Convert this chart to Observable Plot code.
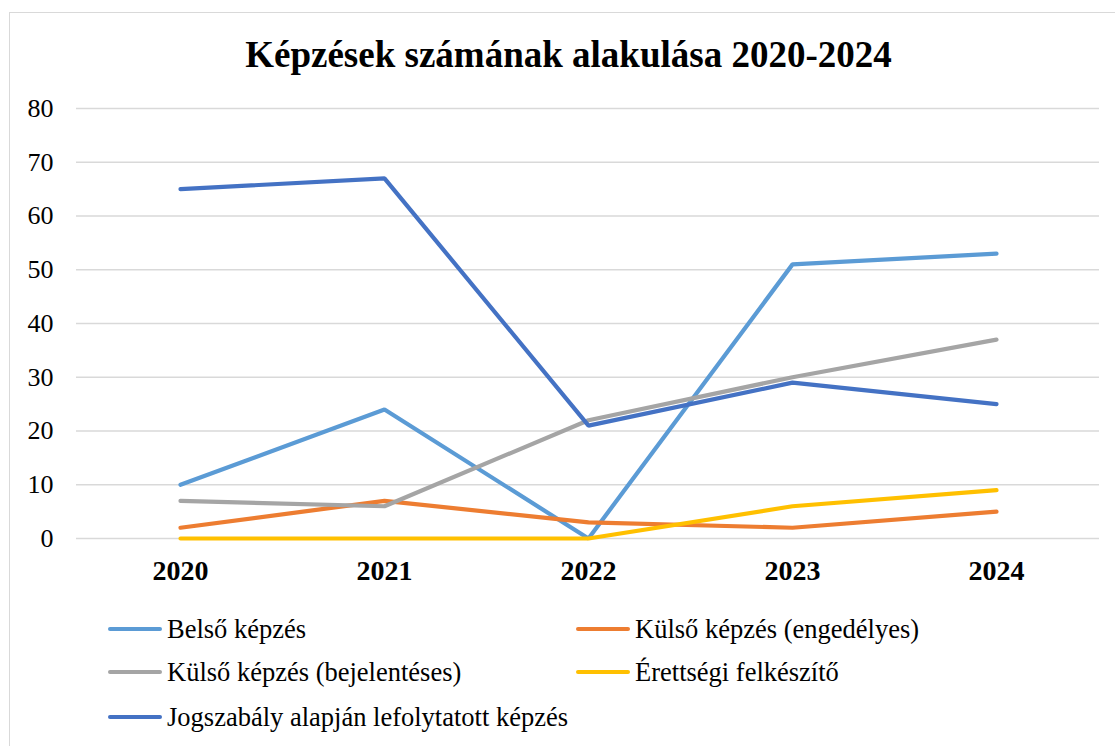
<!DOCTYPE html>
<html><head><meta charset="utf-8">
<script src="https://cdn.jsdelivr.net/npm/d3@7"></script>
<script src="https://cdn.jsdelivr.net/npm/@observablehq/plot@0.6"></script>
<style>
html,body{margin:0;padding:0;background:#fff;}
#wrap{position:relative;width:1115px;height:746px;overflow:hidden;font-family:'Liberation Serif','DejaVu Serif',serif;}
#frame{position:absolute;left:9px;top:12px;width:1120px;height:760px;border:1px solid #d9d9d9;box-sizing:border-box;}
#title{position:absolute;left:0;width:1137px;top:33px;text-align:center;font-weight:bold;font-size:37px;line-height:44px;color:#000;font-family:'Liberation Serif','DejaVu Serif',serif;}
#chart{position:absolute;left:0;top:0;}
.leg{position:absolute;font-size:26.5px;color:#000;display:flex;align-items:center;white-space:nowrap;font-family:'Liberation Serif','DejaVu Serif',serif;}
.sw{display:inline-block;width:54px;height:4.5px;border-radius:2.5px;margin-right:5px;}
svg text{font-family:'Liberation Serif','DejaVu Serif',serif !important;}
</style></head>
<body><div id="wrap"><div id="frame"></div><div id="title"></div><div id="chart"></div><div id="legend"></div></div>
<script>
const titleText = "Képzések számának alakulása 2020-2024";
const years = ["2020","2021","2022","2023","2024"];
const seriesNames = ["Belső képzés","Külső képzés (engedélyes)","Külső képzés (bejelentéses)","Érettségi felkészítő","Jogszabály alapján lefolytatott képzés"];
const colors = ["#5B9BD5","#ED7D31","#A5A5A5","#FFC000","#4472C4"];
const belso = [10,24,0,51,53];
const kulsoEng = [2,7,3,2,5];
const kulsoBej = [7,6,22,30,37];
const erettsegi = [0,0,0,6,9];
const jogszabaly = [65,67,21,29,25];
const yTicks = [0,10,20,30,40,50,60,70,80];

const allValues = [belso,kulsoEng,kulsoBej,erettsegi,jogszabaly];
const data = [];
allValues.forEach((vals,si)=>vals.forEach((v,i)=>data.push({series:seriesNames[si],year:years[i],value:v})));

document.getElementById("title").textContent = titleText;

const font = "'Liberation Serif', 'DejaVu Serif', serif";
const plot = Plot.plot({
  width:1115, height:600,
  marginLeft:76, marginRight:16, marginTop:108, marginBottom:62,
  style:{fontFamily:font, background:"transparent", overflow:"visible"},
  x:{type:"point", domain:years, padding:0.5, label:null},
  y:{domain:[0,80], ticks:yTicks, label:null},
  color:{domain:seriesNames, range:colors},
  marks:[
    Plot.ruleY(yTicks,{stroke:"#d9d9d9",strokeWidth:1.3}),
    Plot.axisY({ticks:yTicks, tickSize:0, tickPadding:23, fontSize:26, fill:"#000", label:null}),
    Plot.axisX({tickSize:0, tickPadding:22, fontSize:28, fontWeight:"bold", fill:"#000", label:null}),
    ...seriesNames.map((s,i)=>Plot.line(data.filter(d=>d.series===s),{x:"year",y:"value",stroke:colors[i],strokeWidth:4.2,strokeLinecap:"round",strokeLinejoin:"miter"}))
  ]
});
document.getElementById("chart").appendChild(plot);

const legPos = [[108,629],[576,629],[108,672],[576,672],[108,717]];
const leg = document.getElementById("legend");
seriesNames.forEach((s,i)=>{
  const d = document.createElement("div");
  d.className="leg";
  d.style.left = legPos[i][0]+"px";
  d.style.top = (legPos[i][1]-16)+"px";
  d.style.height="32px";
  d.innerHTML = `<span class="sw" style="background:${colors[i]}"></span><span>${s}</span>`;
  leg.appendChild(d);
});
</script></body></html>
